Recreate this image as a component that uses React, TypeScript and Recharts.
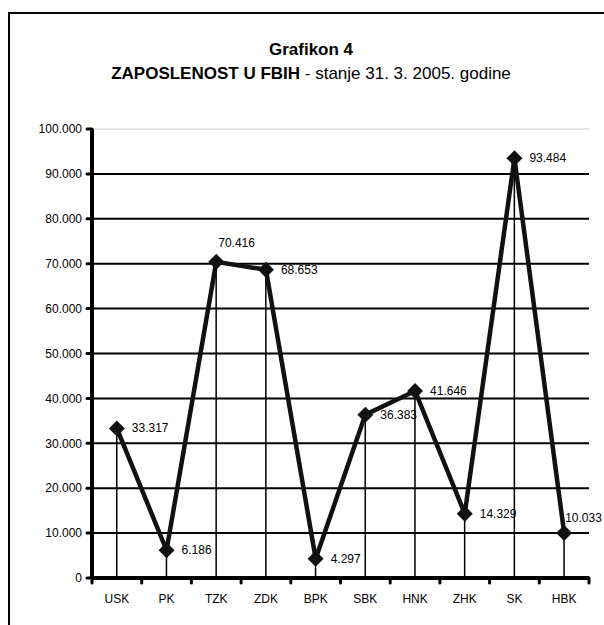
import React from "react";
import {
  ComposedChart,
  Line,
  Bar,
  XAxis,
  YAxis,
  ReferenceLine,
  LabelList,
} from "recharts";

const categories = ["USK", "PK", "TZK", "ZDK", "BPK", "SBK", "HNK", "ZHK", "SK", "HBK"];
const employed = [33317, 6186, 70416, 68653, 4297, 36383, 41646, 14329, 93484, 10033];
const yTicks = [0, 10000, 20000, 30000, 40000, 50000, 60000, 70000, 80000, 90000, 100000];

const data = categories.map((name, i) => ({ name, value: employed[i] }));

const font = "'Liberation Sans', Arial, sans-serif";
const ink = "#111";
const X_TICK_SIZE = 6;
const X_TICK_MARGIN = 10;

// 70.416 -> "70.416"
const fmt = (v: number) => String(v).replace(/\B(?=(\d{3})+(?!\d))/g, ".");

// where the value label sits, relative to the marker
const labelOffset = (name: string) => {
  if (name === "TZK") return { dx: 2, dy: -19 };
  if (name === "HBK") return { dx: 1, dy: -15 };
  return { dx: 15, dy: 0 };
};

const Diamond = (props: any) => {
  const { cx, cy } = props;
  if (cx == null || cy == null) return null;
  const r = 8;
  return (
    <polygon
      points={`${cx},${cy - r} ${cx + r},${cy} ${cx},${cy + r} ${cx - r},${cy}`}
      fill={ink}
    />
  );
};

const ValueLabel = (props: any) => {
  const { x, y, value, index } = props;
  const { dx, dy } = labelOffset(categories[index]);
  return (
    <text
      x={x + dx}
      y={y + dy}
      dominantBaseline="central"
      fontSize={12}
      fontFamily={font}
      fill="#000"
    >
      {fmt(value)}
    </text>
  );
};

// category label plus the small tick marks Excel puts between categories
const CategoryTick = (props: any) => {
  const { x, y, payload, index } = props;
  const half = payload && payload.offset ? payload.offset : 24.85;
  const axisY = y - X_TICK_SIZE - X_TICK_MARGIN;
  const mark = (px: number) => (
    <line
      x1={px}
      x2={px}
      y1={axisY}
      y2={axisY + 5}
      stroke="#000"
      strokeWidth={3}
      strokeLinecap="round"
    />
  );
  return (
    <g>
      {mark(x - half)}
      {index === categories.length - 1 ? mark(x + half) : null}
      <text
        x={x}
        y={y}
        dy="0.71em"
        textAnchor="middle"
        fontSize={12}
        fontFamily={font}
        fill="#000"
      >
        {payload.value}
      </text>
    </g>
  );
};

export default function App() {
  return (
    <div
      style={{
        position: "fixed",
        left: 0,
        top: 0,
        width: 604,
        height: 625,
        overflow: "hidden",
        fontFamily: font,
        background: "#fff",
      }}
    >
      <div
        style={{
          position: "absolute",
          left: 8,
          top: 12,
          width: 700,
          height: 700,
          borderTop: "2px solid #000",
          borderLeft: "2px solid #000",
        }}
      />
      <div
        style={{
          position: "absolute",
          left: 11,
          width: 600,
          top: 41,
          textAlign: "center",
          fontSize: 17,
          lineHeight: "17px",
          fontWeight: "bold",
          color: "#000",
          whiteSpace: "nowrap",
        }}
      >
        Grafikon 4
      </div>
      <div
        style={{
          position: "absolute",
          left: 11,
          width: 600,
          top: 65,
          textAlign: "center",
          fontSize: 17,
          lineHeight: "17px",
          color: "#000",
          whiteSpace: "nowrap",
        }}
      >
        <b>ZAPOSLENOST U FBIH</b> - stanje 31. 3. 2005. godine
      </div>
      <div style={{ position: "absolute", left: 8, top: 8 }}>
        <ComposedChart
          width={620}
          height={617}
          data={data}
          margin={{ top: 121, right: 39, left: 0, bottom: 17 }}
          style={{ fontFamily: font }}
        >
          <XAxis
            dataKey="name"
            height={30}
            axisLine={{ stroke: "#000", strokeWidth: 4 }}
            tickLine={false}
            tickSize={X_TICK_SIZE}
            tickMargin={X_TICK_MARGIN}
            tick={<CategoryTick />}
            interval={0}
          />
          <YAxis
            width={84}
            domain={[0, 100000]}
            ticks={yTicks}
            interval={0}
            tickFormatter={fmt}
            axisLine={{ stroke: "#000", strokeWidth: 4 }}
            tickLine={{ stroke: "#000", strokeWidth: 3, strokeLinecap: "round" }}
            tickSize={5}
            tickMargin={5}
            tick={{ fontSize: 12, fill: "#000" }}
          />
          {yTicks
            .filter((t) => t > 0)
            .map((t) => (
              <ReferenceLine
                key={t}
                y={t}
                stroke={t === 100000 ? "#c8c8c8" : "#000"}
                strokeWidth={t === 100000 ? 1 : 2}
              />
            ))}
          <Bar dataKey="value" barSize={1.5} fill="#000" isAnimationActive={false} />
          <Line
            dataKey="value"
            stroke={ink}
            strokeWidth={4.5}
            dot={<Diamond />}
            activeDot={false}
            isAnimationActive={false}
          >
            <LabelList dataKey="value" content={<ValueLabel />} />
          </Line>
        </ComposedChart>
      </div>
    </div>
  );
}
